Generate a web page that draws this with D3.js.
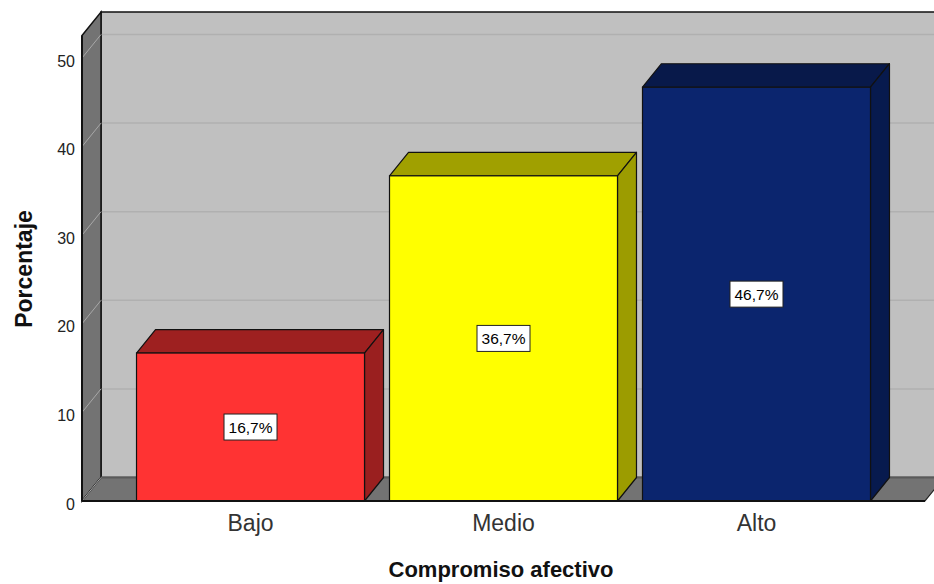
<!DOCTYPE html>
<html><head><meta charset="utf-8">
<script src="https://cdn.jsdelivr.net/npm/d3@7"></script>
<style>body{margin:0;background:#fff}svg{display:block}text{font-family:"Liberation Sans",Arial,sans-serif}</style>
</head><body><svg id="c" width="934" height="584"></svg>
<script>
const categories = ["Bajo", "Medio", "Alto"];
const values = [16.7, 36.7, 46.7];
const valueLabels = ["16,7%", "36,7%", "46,7%"];
const yTicks = [0, 10, 20, 30, 40, 50];
const frontColors = ["#FF3333", "#FFFF00", "#0B256E"];
const topColors = ["#9E2020", "#A0A000", "#08194A"];
const sideColors = ["#9A1F1F", "#9C9C00", "#071A4E"];

const svg = d3.select("#c");
const DX = 19, DY = -23.5;
const x0 = 82, x1 = 925;
const y = d3.scaleLinear().domain([0, 50]).range([501, 58]);
const x = d3.scaleBand().domain(categories).range([x0, x1]).paddingInner(25/253).paddingOuter(0.2155);
const wallTop = 35.5;
const line = d3.line();

// back wall
svg.append("rect").attr("x", x0 + DX).attr("y", wallTop + DY).attr("width", x1 - x0).attr("height", y(0) - wallTop)
  .attr("fill", "#C0C0C0").attr("stroke", "#111").attr("stroke-width", 1.5);
// back gridlines
svg.selectAll(".bg").data(yTicks.filter(d => d > 0)).join("line")
  .attr("x1", x0 + DX).attr("x2", x1 + DX).attr("y1", d => y(d) + DY).attr("y2", d => y(d) + DY)
  .attr("stroke", "#B0B0B0").attr("stroke-width", 1.5);
// left wall
svg.append("path").attr("d", line([[x0, wallTop], [x0 + DX, wallTop + DY], [x0 + DX, y(0) + DY], [x0, y(0)]]) + "Z")
  .attr("fill", "#737373").attr("stroke", "#111").attr("stroke-width", 1.5);
svg.selectAll(".lg").data(yTicks.filter(d => d > 0)).join("line")
  .attr("x1", x0).attr("x2", x0 + DX).attr("y1", d => y(d)).attr("y2", d => y(d) + DY)
  .attr("stroke", "#A8A8A8").attr("stroke-width", 1);
// floor
svg.append("path").attr("d", line([[x0, y(0)], [x0 + DX, y(0) + DY], [x1 + DX, y(0) + DY], [x1, y(0)]]) + "Z")
  .attr("fill", "#737373").attr("stroke", "#222").attr("stroke-width", 1.2);
svg.append("line").attr("x1", x0 + DX).attr("x2", x1 + DX).attr("y1", y(0) + DY).attr("y2", y(0) + DY)
  .attr("stroke", "#5A5A5A").attr("stroke-width", 2);
svg.append("line").attr("x1", x0).attr("x2", x0 + DX).attr("y1", y(0)).attr("y2", y(0) + DY)
  .attr("stroke", "#A8A8A8").attr("stroke-width", 1);

// bars
const bars = svg.selectAll(".bar").data(categories).join("g");
bars.each(function(c, i) {
  const g = d3.select(this);
  const bx = x(c), bw = x.bandwidth(), ty = y(values[i]), by = y(0);
  g.append("path").attr("d", line([[bx, ty], [bx + DX, ty + DY], [bx + bw + DX, ty + DY], [bx + bw, ty]]) + "Z")
    .attr("fill", topColors[i]).attr("stroke", "#111").attr("stroke-width", 1.2).attr("stroke-linejoin", "round");
  g.append("path").attr("d", line([[bx + bw, ty], [bx + bw + DX, ty + DY], [bx + bw + DX, by + DY], [bx + bw, by]]) + "Z")
    .attr("fill", sideColors[i]).attr("stroke", "#111").attr("stroke-width", 1.2).attr("stroke-linejoin", "round");
  g.append("rect").attr("x", bx).attr("y", ty).attr("width", bw).attr("height", by - ty)
    .attr("fill", frontColors[i]).attr("stroke", "#111").attr("stroke-width", 1.2);
  const cy = y(values[i] / 2), cx = bx + bw / 2;
  g.append("rect").attr("x", cx - 26.5).attr("y", cy - 13).attr("width", 53).attr("height", 26)
    .attr("fill", "#fff").attr("stroke", "#222").attr("stroke-width", 1);
  g.append("text").attr("x", cx).attr("y", cy + 6).attr("text-anchor", "middle").attr("font-size", 15.5)
    .attr("fill", "#000").text(valueLabels[i]);
});

// axis line
svg.append("line").attr("x1", x0).attr("x2", x1).attr("y1", y(0)).attr("y2", y(0)).attr("stroke", "#111").attr("stroke-width", 2);
svg.append("line").attr("x1", x0).attr("x2", x0).attr("y1", wallTop).attr("y2", y(0)).attr("stroke", "#111").attr("stroke-width", 2);

// y axis labels
const yAxis = d3.axisLeft(y).tickValues(yTicks).tickSize(0).tickPadding(7).tickFormat(d3.format("d"));
const ya = svg.append("g").attr("transform", `translate(${x0},3)`).call(yAxis);
ya.select(".domain").remove();
ya.selectAll("text").attr("font-size", 16).attr("fill", "#222").attr("font-family", "Liberation Sans, Arial, sans-serif");

// x axis labels
const xAxis = d3.axisBottom(x).tickSize(0).tickPadding(14);
const xa = svg.append("g").attr("transform", `translate(0,${y(0)})`).call(xAxis);
xa.select(".domain").remove();
xa.selectAll("text").attr("font-size", 23).attr("fill", "#333").attr("font-family", "Liberation Sans, Arial, sans-serif");

// titles
svg.append("text").attr("x", 501).attr("y", 577).attr("text-anchor", "middle").attr("font-size", 22)
  .attr("font-weight", "bold").attr("fill", "#111").text("Compromiso afectivo");
svg.append("text").attr("transform", "translate(32,269) rotate(-90)").attr("text-anchor", "middle").attr("font-size", 23)
  .attr("font-weight", "bold").attr("fill", "#111").text("Porcentaje");
</script></body></html>
